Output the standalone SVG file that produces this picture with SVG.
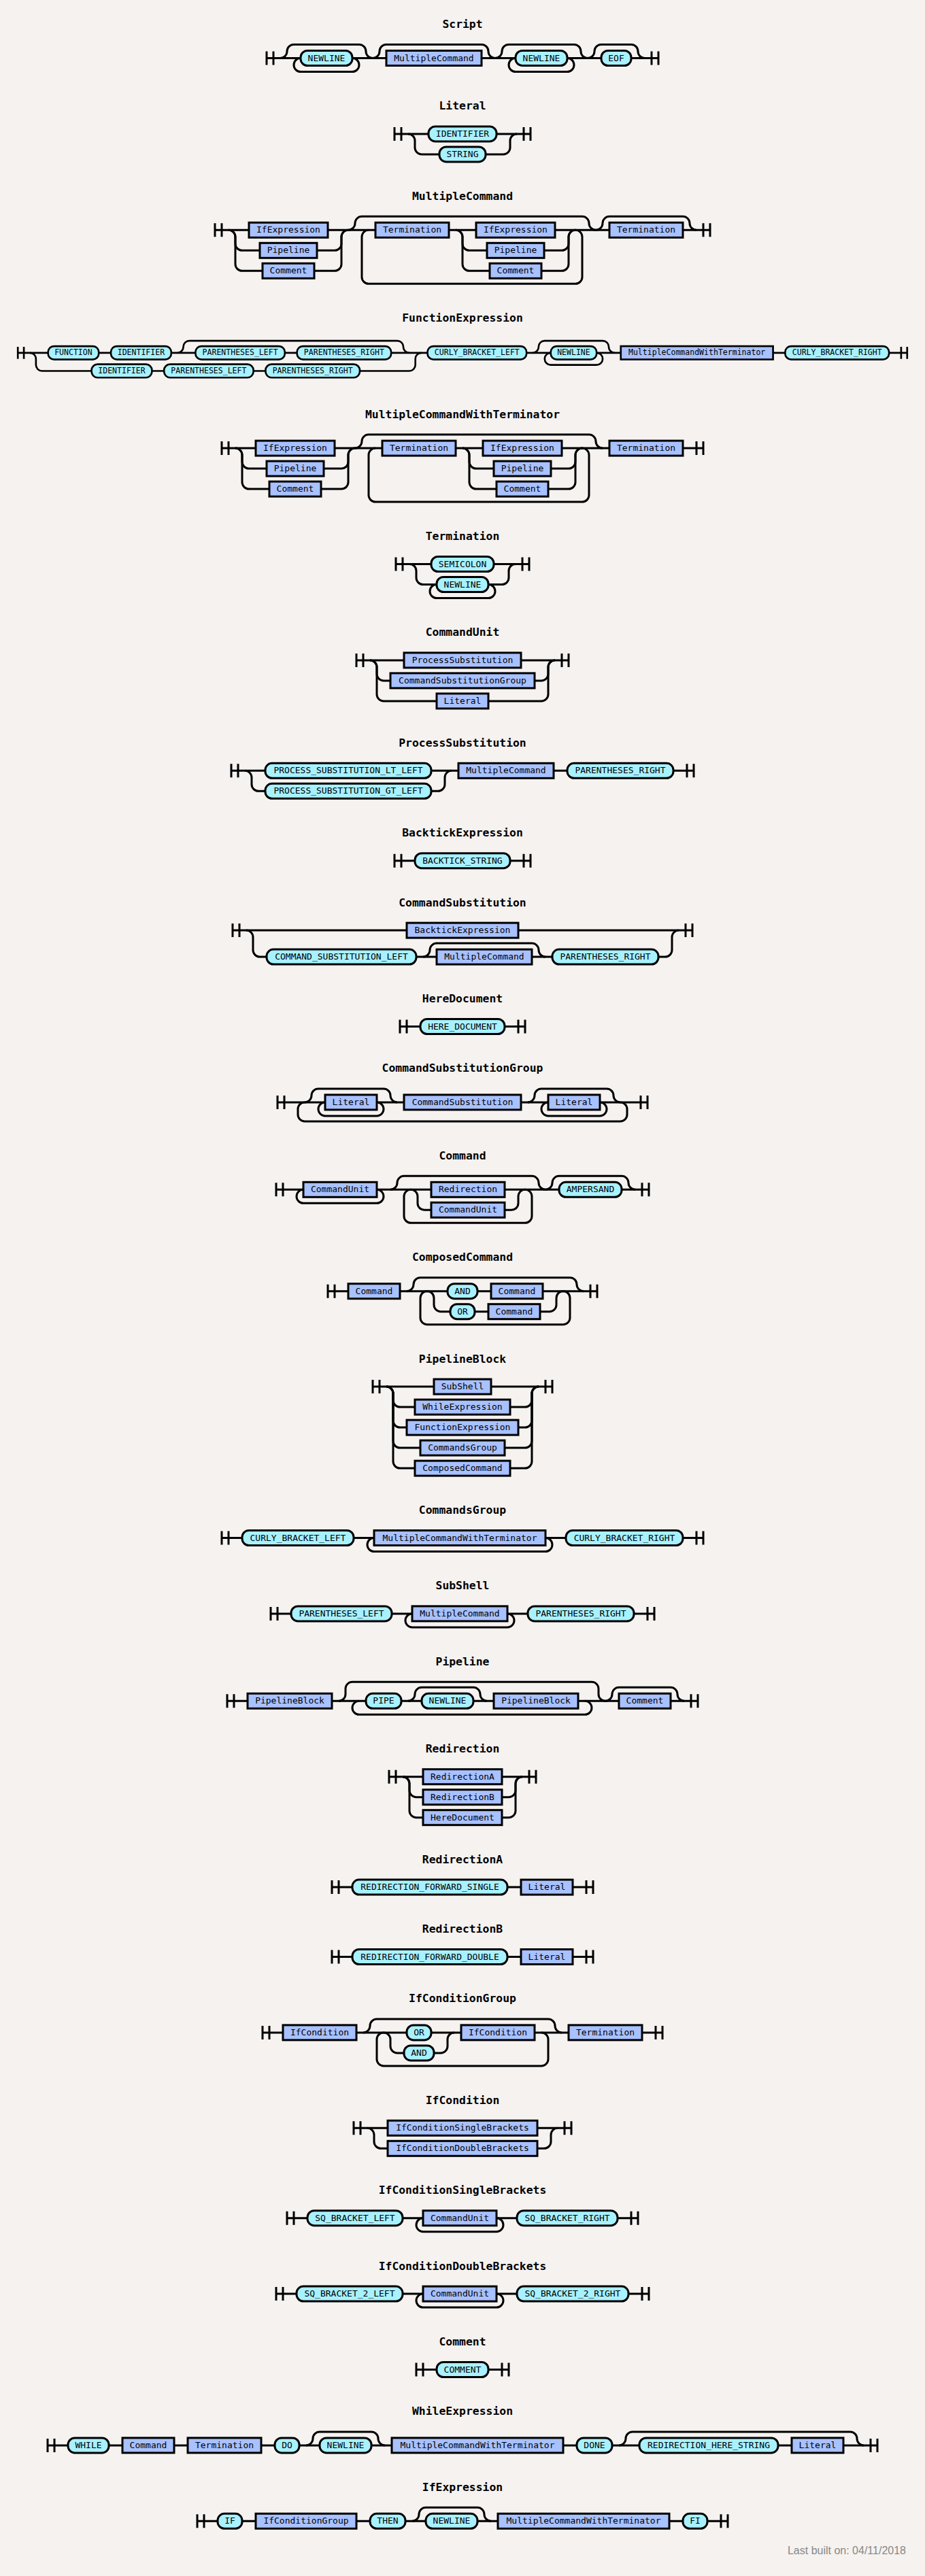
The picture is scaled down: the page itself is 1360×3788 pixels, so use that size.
<svg xmlns="http://www.w3.org/2000/svg" width="1360" height="3788" viewBox="0 0 1360 3788">
<style>
.c path{fill:none;stroke:#000;stroke-width:3}
rect.t{fill:#a8f1ff;stroke:#000;stroke-width:3}
rect.n{fill:#a8c1ff;stroke:#000;stroke-width:3}
text{font-family:"DejaVu Sans Mono",monospace;font-size:13px;text-anchor:middle;fill:#000}
text.h{font-weight:bold;font-size:16.4px}
text.f{font-family:"Liberation Sans",Arial,sans-serif;font-size:16px;fill:#888;text-anchor:end}
</style>
<rect x="0" y="0" width="1360" height="3788" fill="#f5f2f0"/>

<g id="rule-Script" transform="translate(392 85.5)">
<text class="h" x="288" y="-44.5">Script</text>
<g class="c">
<path d="M0 0H576M0 -10v20m10 -20v20M566 -10v20m10 -20v20"/>
<path d="M20 0a10 10 0 0 0 10 -10a10 10 0 0 1 10 -10h96a10 10 0 0 1 10 10a10 10 0 0 0 10 10"/>
<path d="M50 0a10 10 0 0 0 -10 10a10 10 0 0 0 10 10h76a10 10 0 0 0 10 -10a10 10 0 0 0 -10 -10"/>
<path d="M156 0a10 10 0 0 0 10 -10a10 10 0 0 1 10 -10h140a10 10 0 0 1 10 10a10 10 0 0 0 10 10"/>
<path d="M336 0a10 10 0 0 0 10 -10a10 10 0 0 1 10 -10h96a10 10 0 0 1 10 10a10 10 0 0 0 10 10"/>
<path d="M366 0a10 10 0 0 0 -10 10a10 10 0 0 0 10 10h76a10 10 0 0 0 10 -10a10 10 0 0 0 -10 -10"/>
<path d="M472 0a10 10 0 0 0 10 -10a10 10 0 0 1 10 -10h44a10 10 0 0 1 10 10a10 10 0 0 0 10 10"/>
</g>
<g id="script-newline-1"><rect class="t" x="50" y="-11" width="76" height="22" rx="10"/><text x="88" y="4">NEWLINE</text></g>
<g id="script-multiplecommand"><rect class="n" x="176" y="-11" width="140" height="22"/><text x="246" y="4">MultipleCommand</text></g>
<g id="script-newline-2"><rect class="t" x="366" y="-11" width="76" height="22" rx="10"/><text x="404" y="4">NEWLINE</text></g>
<g id="script-eof"><rect class="t" x="492" y="-11" width="44" height="22" rx="10"/><text x="514" y="4">EOF</text></g>
</g>

<g id="rule-Literal" transform="translate(580 196.9)">
<text class="h" x="100" y="-35.5">Literal</text>
<g class="c">
<path d="M0 0H200M0 -10v20m10 -20v20M190 -10v20m10 -20v20"/>
<path d="M20 0a10 10 0 0 1 10 10v10a10 10 0 0 0 10 10h120a10 10 0 0 0 10 -10v-10a10 10 0 0 1 10 -10"/>
</g>
<g id="literal-identifier"><rect class="t" x="50" y="-11" width="100" height="22" rx="10"/><text x="100" y="4">IDENTIFIER</text></g>
<g id="literal-string"><rect class="t" x="66" y="19" width="68" height="22" rx="10"/><text x="100" y="34">STRING</text></g>
</g>

<g id="rule-MultipleCommand" transform="translate(316 338.3)">
<text class="h" x="364" y="-44.5">MultipleCommand</text>
<g class="c">
<path d="M0 0H728M0 -10v20m10 -20v20M718 -10v20m10 -20v20"/>
<path d="M20 0a10 10 0 0 1 10 10v10a10 10 0 0 0 10 10h136a10 10 0 0 0 10 -10v-10a10 10 0 0 1 10 -10"/>
<path d="M20 0a10 10 0 0 1 10 10v40a10 10 0 0 0 10 10h136a10 10 0 0 0 10 -10v-40a10 10 0 0 1 10 -10"/>
<path d="M196 0a10 10 0 0 0 10 -10a10 10 0 0 1 10 -10h324a10 10 0 0 1 10 10a10 10 0 0 0 10 10"/>
<path d="M226 0a10 10 0 0 0 -10 10v59a10 10 0 0 0 10 10h304a10 10 0 0 0 10 -10v-59a10 10 0 0 0 -10 -10"/>
<path d="M354 0a10 10 0 0 1 10 10v10a10 10 0 0 0 10 10h136a10 10 0 0 0 10 -10v-10a10 10 0 0 1 10 -10"/>
<path d="M354 0a10 10 0 0 1 10 10v40a10 10 0 0 0 10 10h136a10 10 0 0 0 10 -10v-40a10 10 0 0 1 10 -10"/>
<path d="M560 0a10 10 0 0 0 10 -10a10 10 0 0 1 10 -10h108a10 10 0 0 1 10 10a10 10 0 0 0 10 10"/>
</g>
<g id="mc-ifexpression-1"><rect class="n" x="50" y="-11" width="116" height="22"/><text x="108" y="4">IfExpression</text></g>
<g id="mc-pipeline-1"><rect class="n" x="66" y="19" width="84" height="22"/><text x="108" y="34">Pipeline</text></g>
<g id="mc-comment-1"><rect class="n" x="70" y="49" width="76" height="22"/><text x="108" y="64">Comment</text></g>
<g id="mc-termination-1"><rect class="n" x="236" y="-11" width="108" height="22"/><text x="290" y="4">Termination</text></g>
<g id="mc-ifexpression-2"><rect class="n" x="384" y="-11" width="116" height="22"/><text x="442" y="4">IfExpression</text></g>
<g id="mc-pipeline-2"><rect class="n" x="400" y="19" width="84" height="22"/><text x="442" y="34">Pipeline</text></g>
<g id="mc-comment-2"><rect class="n" x="404" y="49" width="76" height="22"/><text x="442" y="64">Comment</text></g>
<g id="mc-termination-2"><rect class="n" x="580" y="-11" width="108" height="22"/><text x="634" y="4">Termination</text></g>
</g>

<g id="rule-FunctionExpression">
<text class="h" x="680" y="473.2">FunctionExpression</text>
<svg x="8" y="477.2" width="1344" height="101" viewBox="0 0 1513 101">
<g transform="translate(20.5 40.5)">
<g class="c">
<path d="M0 0H1472M0 -10v20m10 -20v20M1462 -10v20m10 -20v20"/>
<path d="M20 0a10 10 0 0 1 10 10v10a10 10 0 0 0 10 10h608a10 10 0 0 0 10 -10v-10a10 10 0 0 1 10 -10"/>
<path d="M264 0a10 10 0 0 0 10 -10a10 10 0 0 1 10 -10h344a10 10 0 0 1 10 10a10 10 0 0 0 10 10"/>
<path d="M852 0a10 10 0 0 0 10 -10a10 10 0 0 1 10 -10h96a10 10 0 0 1 10 10a10 10 0 0 0 10 10"/>
<path d="M882 0a10 10 0 0 0 -10 10a10 10 0 0 0 10 10h76a10 10 0 0 0 10 -10a10 10 0 0 0 -10 -10"/>
</g>
<g id="fe-function"><rect class="t" x="50" y="-11" width="84" height="22" rx="10"/><text x="92" y="4">FUNCTION</text></g>
<g id="fe-identifier-1"><rect class="t" x="154" y="-11" width="100" height="22" rx="10"/><text x="204" y="4">IDENTIFIER</text></g>
<g id="fe-parentheses-left-1"><rect class="t" x="294" y="-11" width="148" height="22" rx="10"/><text x="368" y="4">PARENTHESES_LEFT</text></g>
<g id="fe-parentheses-right-1"><rect class="t" x="462" y="-11" width="156" height="22" rx="10"/><text x="540" y="4">PARENTHESES_RIGHT</text></g>
<g id="fe-identifier-2"><rect class="t" x="122" y="19" width="100" height="22" rx="10"/><text x="172" y="34">IDENTIFIER</text></g>
<g id="fe-parentheses-left-2"><rect class="t" x="242" y="19" width="148" height="22" rx="10"/><text x="316" y="34">PARENTHESES_LEFT</text></g>
<g id="fe-parentheses-right-2"><rect class="t" x="410" y="19" width="156" height="22" rx="10"/><text x="488" y="34">PARENTHESES_RIGHT</text></g>
<g id="fe-curly-left"><rect class="t" x="678" y="-11" width="164" height="22" rx="10"/><text x="760" y="4">CURLY_BRACKET_LEFT</text></g>
<g id="fe-newline"><rect class="t" x="882" y="-11" width="76" height="22" rx="10"/><text x="920" y="4">NEWLINE</text></g>
<g id="fe-mcwt"><rect class="n" x="998" y="-11" width="252" height="22"/><text x="1124" y="4">MultipleCommandWithTerminator</text></g>
<g id="fe-curly-right"><rect class="t" x="1270" y="-11" width="172" height="22" rx="10"/><text x="1356" y="4">CURLY_BRACKET_RIGHT</text></g>
</g>
</svg>
</g>

<g id="rule-MultipleCommandWithTerminator" transform="translate(326 659.1)">
<text class="h" x="354" y="-44.5">MultipleCommandWithTerminator</text>
<g class="c">
<path d="M0 0H708M0 -10v20m10 -20v20M698 -10v20m10 -20v20"/>
<path d="M20 0a10 10 0 0 1 10 10v10a10 10 0 0 0 10 10h136a10 10 0 0 0 10 -10v-10a10 10 0 0 1 10 -10"/>
<path d="M20 0a10 10 0 0 1 10 10v40a10 10 0 0 0 10 10h136a10 10 0 0 0 10 -10v-40a10 10 0 0 1 10 -10"/>
<path d="M196 0a10 10 0 0 0 10 -10a10 10 0 0 1 10 -10h324a10 10 0 0 1 10 10a10 10 0 0 0 10 10"/>
<path d="M226 0a10 10 0 0 0 -10 10v59a10 10 0 0 0 10 10h304a10 10 0 0 0 10 -10v-59a10 10 0 0 0 -10 -10"/>
<path d="M354 0a10 10 0 0 1 10 10v10a10 10 0 0 0 10 10h136a10 10 0 0 0 10 -10v-10a10 10 0 0 1 10 -10"/>
<path d="M354 0a10 10 0 0 1 10 10v40a10 10 0 0 0 10 10h136a10 10 0 0 0 10 -10v-40a10 10 0 0 1 10 -10"/>
</g>
<g id="mcwt-ifexpression-1"><rect class="n" x="50" y="-11" width="116" height="22"/><text x="108" y="4">IfExpression</text></g>
<g id="mcwt-pipeline-1"><rect class="n" x="66" y="19" width="84" height="22"/><text x="108" y="34">Pipeline</text></g>
<g id="mcwt-comment-1"><rect class="n" x="70" y="49" width="76" height="22"/><text x="108" y="64">Comment</text></g>
<g id="mcwt-termination-1"><rect class="n" x="236" y="-11" width="108" height="22"/><text x="290" y="4">Termination</text></g>
<g id="mcwt-ifexpression-2"><rect class="n" x="384" y="-11" width="116" height="22"/><text x="442" y="4">IfExpression</text></g>
<g id="mcwt-pipeline-2"><rect class="n" x="400" y="19" width="84" height="22"/><text x="442" y="34">Pipeline</text></g>
<g id="mcwt-comment-2"><rect class="n" x="404" y="49" width="76" height="22"/><text x="442" y="64">Comment</text></g>
<g id="mcwt-termination-2"><rect class="n" x="570" y="-11" width="108" height="22"/><text x="624" y="4">Termination</text></g>
</g>

<g id="rule-Termination" transform="translate(582 829.5)">
<text class="h" x="98" y="-35.5">Termination</text>
<g class="c">
<path d="M0 0H196M0 -10v20m10 -20v20M186 -10v20m10 -20v20"/>
<path d="M20 0a10 10 0 0 1 10 10v10a10 10 0 0 0 10 10h116a10 10 0 0 0 10 -10v-10a10 10 0 0 1 10 -10"/>
<path d="M60 30a10 10 0 0 0 -10 10a10 10 0 0 0 10 10h76a10 10 0 0 0 10 -10a10 10 0 0 0 -10 -10"/>
</g>
<g id="termination-semicolon"><rect class="t" x="52" y="-11" width="92" height="22" rx="10"/><text x="98" y="4">SEMICOLON</text></g>
<g id="termination-newline"><rect class="t" x="60" y="19" width="76" height="22" rx="10"/><text x="98" y="34">NEWLINE</text></g>
</g>

<g id="rule-CommandUnit" transform="translate(524 970.9)">
<text class="h" x="156" y="-35.5">CommandUnit</text>
<g class="c">
<path d="M0 0H312M0 -10v20m10 -20v20M302 -10v20m10 -20v20"/>
<path d="M20 0a10 10 0 0 1 10 10v10a10 10 0 0 0 10 10h232a10 10 0 0 0 10 -10v-10a10 10 0 0 1 10 -10"/>
<path d="M20 0a10 10 0 0 1 10 10v40a10 10 0 0 0 10 10h232a10 10 0 0 0 10 -10v-40a10 10 0 0 1 10 -10"/>
</g>
<g id="cu-processsubstitution"><rect class="n" x="70" y="-11" width="172" height="22"/><text x="156" y="4">ProcessSubstitution</text></g>
<g id="cu-commandsubstitutiongroup"><rect class="n" x="50" y="19" width="212" height="22"/><text x="156" y="34">CommandSubstitutionGroup</text></g>
<g id="cu-literal"><rect class="n" x="118" y="49" width="76" height="22"/><text x="156" y="64">Literal</text></g>
</g>

<g id="rule-ProcessSubstitution" transform="translate(340 1133.3)">
<text class="h" x="340" y="-35.5">ProcessSubstitution</text>
<g class="c">
<path d="M0 0H680M0 -10v20m10 -20v20M670 -10v20m10 -20v20"/>
<path d="M20 0a10 10 0 0 1 10 10v10a10 10 0 0 0 10 10h264a10 10 0 0 0 10 -10v-10a10 10 0 0 1 10 -10"/>
</g>
<g id="ps-lt-left"><rect class="t" x="50" y="-11" width="244" height="22" rx="10"/><text x="172" y="4">PROCESS_SUBSTITUTION_LT_LEFT</text></g>
<g id="ps-gt-left"><rect class="t" x="50" y="19" width="244" height="22" rx="10"/><text x="172" y="34">PROCESS_SUBSTITUTION_GT_LEFT</text></g>
<g id="ps-multiplecommand"><rect class="n" x="334" y="-11" width="140" height="22"/><text x="404" y="4">MultipleCommand</text></g>
<g id="ps-parentheses-right"><rect class="t" x="494" y="-11" width="156" height="22" rx="10"/><text x="572" y="4">PARENTHESES_RIGHT</text></g>
</g>

<g id="rule-BacktickExpression" transform="translate(580 1265.7)">
<text class="h" x="100" y="-35.5">BacktickExpression</text>
<g class="c"><path d="M0 0H200M0 -10v20m10 -20v20M190 -10v20m10 -20v20"/></g>
<g id="be-backtick-string"><rect class="t" x="30" y="-11" width="140" height="22" rx="10"/><text x="100" y="4">BACKTICK_STRING</text></g>
</g>

<g id="rule-CommandSubstitution" transform="translate(342 1368.1)">
<text class="h" x="338" y="-35.5">CommandSubstitution</text>
<g class="c">
<path d="M0 0H676M0 -10v20m10 -20v20M666 -10v20m10 -20v20"/>
<path d="M20 0a10 10 0 0 1 10 10v19a10 10 0 0 0 10 10h596a10 10 0 0 0 10 -10v-19a10 10 0 0 1 10 -10"/>
<path d="M280 39a10 10 0 0 0 10 -10a10 10 0 0 1 10 -10h140a10 10 0 0 1 10 10a10 10 0 0 0 10 10"/>
</g>
<g id="cs-backtickexpression"><rect class="n" x="256" y="-11" width="164" height="22"/><text x="338" y="4">BacktickExpression</text></g>
<g id="cs-command-substitution-left"><rect class="t" x="50" y="28" width="220" height="22" rx="10"/><text x="160" y="43">COMMAND_SUBSTITUTION_LEFT</text></g>
<g id="cs-multiplecommand"><rect class="n" x="300" y="28" width="140" height="22"/><text x="370" y="43">MultipleCommand</text></g>
<g id="cs-parentheses-right"><rect class="t" x="470" y="28" width="156" height="22" rx="10"/><text x="548" y="43">PARENTHESES_RIGHT</text></g>
</g>

<g id="rule-HereDocument" transform="translate(588 1509.5)">
<text class="h" x="92" y="-35.5">HereDocument</text>
<g class="c"><path d="M0 0H184M0 -10v20m10 -20v20M174 -10v20m10 -20v20"/></g>
<g id="hd-here-document"><rect class="t" x="30" y="-11" width="124" height="22" rx="10"/><text x="92" y="4">HERE_DOCUMENT</text></g>
</g>

<g id="rule-CommandSubstitutionGroup" transform="translate(408 1620.9)">
<text class="h" x="272" y="-44.5">CommandSubstitutionGroup</text>
<g class="c">
<path d="M0 0H544M0 -10v20m10 -20v20M534 -10v20m10 -20v20"/>
<path d="M40 0a10 10 0 0 0 -10 10v8a10 10 0 0 0 10 10h464a10 10 0 0 0 10 -10v-8a10 10 0 0 0 -10 -10"/>
<path d="M40 0a10 10 0 0 0 10 -10a10 10 0 0 1 10 -10h96a10 10 0 0 1 10 10a10 10 0 0 0 10 10"/>
<path d="M70 0a10 10 0 0 0 -10 10a10 10 0 0 0 10 10h76a10 10 0 0 0 10 -10a10 10 0 0 0 -10 -10"/>
<path d="M368 0a10 10 0 0 0 10 -10a10 10 0 0 1 10 -10h96a10 10 0 0 1 10 10a10 10 0 0 0 10 10"/>
<path d="M398 0a10 10 0 0 0 -10 10a10 10 0 0 0 10 10h76a10 10 0 0 0 10 -10a10 10 0 0 0 -10 -10"/>
</g>
<g id="csg-literal-1"><rect class="n" x="70" y="-11" width="76" height="22"/><text x="108" y="4">Literal</text></g>
<g id="csg-commandsubstitution"><rect class="n" x="186" y="-11" width="172" height="22"/><text x="272" y="4">CommandSubstitution</text></g>
<g id="csg-literal-2"><rect class="n" x="398" y="-11" width="76" height="22"/><text x="436" y="4">Literal</text></g>
</g>

<g id="rule-Command" transform="translate(406 1749.3)">
<text class="h" x="274" y="-44.5">Command</text>
<g class="c">
<path d="M0 0H548M0 -10v20m10 -20v20M538 -10v20m10 -20v20"/>
<path d="M40 0a10 10 0 0 0 -10 10a10 10 0 0 0 10 10h108a10 10 0 0 0 10 -10a10 10 0 0 0 -10 -10"/>
<path d="M168 0a10 10 0 0 0 10 -10a10 10 0 0 1 10 -10h188a10 10 0 0 1 10 10a10 10 0 0 0 10 10"/>
<path d="M198 0a10 10 0 0 0 -10 10v29a10 10 0 0 0 10 10h168a10 10 0 0 0 10 -10v-29a10 10 0 0 0 -10 -10"/>
<path d="M198 0a10 10 0 0 1 10 10v10a10 10 0 0 0 10 10h128a10 10 0 0 0 10 -10v-10a10 10 0 0 1 10 -10"/>
<path d="M396 0a10 10 0 0 0 10 -10a10 10 0 0 1 10 -10h92a10 10 0 0 1 10 10a10 10 0 0 0 10 10"/>
</g>
<g id="command-commandunit-1"><rect class="n" x="40" y="-11" width="108" height="22"/><text x="94" y="4">CommandUnit</text></g>
<g id="command-redirection"><rect class="n" x="228" y="-11" width="108" height="22"/><text x="282" y="4">Redirection</text></g>
<g id="command-commandunit-2"><rect class="n" x="228" y="19" width="108" height="22"/><text x="282" y="34">CommandUnit</text></g>
<g id="command-ampersand"><rect class="t" x="416" y="-11" width="92" height="22" rx="10"/><text x="462" y="4">AMPERSAND</text></g>
</g>

<g id="rule-ComposedCommand" transform="translate(482 1898.7)">
<text class="h" x="198" y="-44.5">ComposedCommand</text>
<g class="c">
<path d="M0 0H396M0 -10v20m10 -20v20M386 -10v20m10 -20v20"/>
<path d="M116 0a10 10 0 0 0 10 -10a10 10 0 0 1 10 -10h220a10 10 0 0 1 10 10a10 10 0 0 0 10 10"/>
<path d="M146 0a10 10 0 0 0 -10 10v29a10 10 0 0 0 10 10h200a10 10 0 0 0 10 -10v-29a10 10 0 0 0 -10 -10"/>
<path d="M146 0a10 10 0 0 1 10 10v10a10 10 0 0 0 10 10h160a10 10 0 0 0 10 -10v-10a10 10 0 0 1 10 -10"/>
</g>
<g id="cc-command-1"><rect class="n" x="30" y="-11" width="76" height="22"/><text x="68" y="4">Command</text></g>
<g id="cc-and"><rect class="t" x="176" y="-11" width="44" height="22" rx="10"/><text x="198" y="4">AND</text></g>
<g id="cc-command-2"><rect class="n" x="240" y="-11" width="76" height="22"/><text x="278" y="4">Command</text></g>
<g id="cc-or"><rect class="t" x="180" y="19" width="36" height="22" rx="10"/><text x="198" y="34">OR</text></g>
<g id="cc-command-3"><rect class="n" x="236" y="19" width="76" height="22"/><text x="274" y="34">Command</text></g>
</g>

<g id="rule-PipelineBlock" transform="translate(548 2039.1)">
<text class="h" x="132" y="-35.5">PipelineBlock</text>
<g class="c">
<path d="M0 0H264M0 -10v20m10 -20v20M254 -10v20m10 -20v20"/>
<path d="M20 0a10 10 0 0 1 10 10v10a10 10 0 0 0 10 10h184a10 10 0 0 0 10 -10v-10a10 10 0 0 1 10 -10"/>
<path d="M20 0a10 10 0 0 1 10 10v40a10 10 0 0 0 10 10h184a10 10 0 0 0 10 -10v-40a10 10 0 0 1 10 -10"/>
<path d="M20 0a10 10 0 0 1 10 10v70a10 10 0 0 0 10 10h184a10 10 0 0 0 10 -10v-70a10 10 0 0 1 10 -10"/>
<path d="M20 0a10 10 0 0 1 10 10v100a10 10 0 0 0 10 10h184a10 10 0 0 0 10 -10v-100a10 10 0 0 1 10 -10"/>
</g>
<g id="pb-subshell"><rect class="n" x="90" y="-11" width="84" height="22"/><text x="132" y="4">SubShell</text></g>
<g id="pb-whileexpression"><rect class="n" x="62" y="19" width="140" height="22"/><text x="132" y="34">WhileExpression</text></g>
<g id="pb-functionexpression"><rect class="n" x="50" y="49" width="164" height="22"/><text x="132" y="64">FunctionExpression</text></g>
<g id="pb-commandsgroup"><rect class="n" x="70" y="79" width="124" height="22"/><text x="132" y="94">CommandsGroup</text></g>
<g id="pb-composedcommand"><rect class="n" x="62" y="109" width="140" height="22"/><text x="132" y="124">ComposedCommand</text></g>
</g>

<g id="rule-CommandsGroup" transform="translate(326 2261.5)">
<text class="h" x="354" y="-35.5">CommandsGroup</text>
<g class="c">
<path d="M0 0H708M0 -10v20m10 -20v20M698 -10v20m10 -20v20"/>
<path d="M224 0a10 10 0 0 0 -10 10a10 10 0 0 0 10 10h252a10 10 0 0 0 10 -10a10 10 0 0 0 -10 -10"/>
</g>
<g id="cg-curly-left"><rect class="t" x="30" y="-11" width="164" height="22" rx="10"/><text x="112" y="4">CURLY_BRACKET_LEFT</text></g>
<g id="cg-mcwt"><rect class="n" x="224" y="-11" width="252" height="22"/><text x="350" y="4">MultipleCommandWithTerminator</text></g>
<g id="cg-curly-right"><rect class="t" x="506" y="-11" width="172" height="22" rx="10"/><text x="592" y="4">CURLY_BRACKET_RIGHT</text></g>
</g>

<g id="rule-SubShell" transform="translate(398 2372.9)">
<text class="h" x="282" y="-35.5">SubShell</text>
<g class="c">
<path d="M0 0H564M0 -10v20m10 -20v20M554 -10v20m10 -20v20"/>
<path d="M208 0a10 10 0 0 0 -10 10a10 10 0 0 0 10 10h140a10 10 0 0 0 10 -10a10 10 0 0 0 -10 -10"/>
</g>
<g id="ss-parentheses-left"><rect class="t" x="30" y="-11" width="148" height="22" rx="10"/><text x="104" y="4">PARENTHESES_LEFT</text></g>
<g id="ss-multiplecommand"><rect class="n" x="208" y="-11" width="140" height="22"/><text x="278" y="4">MultipleCommand</text></g>
<g id="ss-parentheses-right"><rect class="t" x="378" y="-11" width="156" height="22" rx="10"/><text x="456" y="4">PARENTHESES_RIGHT</text></g>
</g>

<g id="rule-Pipeline" transform="translate(334 2501.3)">
<text class="h" x="346" y="-52.5">Pipeline</text>
<g class="c">
<path d="M0 0H692M0 -10v20m10 -20v20M682 -10v20m10 -20v20"/>
<path d="M164 0a10 10 0 0 0 10 -10v-8a10 10 0 0 1 10 -10h352a10 10 0 0 1 10 10v8a10 10 0 0 0 10 10"/>
<path d="M194 0a10 10 0 0 0 -10 10a10 10 0 0 0 10 10h332a10 10 0 0 0 10 -10a10 10 0 0 0 -10 -10"/>
<path d="M266 0a10 10 0 0 0 10 -10a10 10 0 0 1 10 -10h76a10 10 0 0 1 10 10a10 10 0 0 0 10 10"/>
<path d="M556 0a10 10 0 0 0 10 -10a10 10 0 0 1 10 -10h76a10 10 0 0 1 10 10a10 10 0 0 0 10 10"/>
</g>
<g id="pl-pipelineblock-1"><rect class="n" x="30" y="-11" width="124" height="22"/><text x="92" y="4">PipelineBlock</text></g>
<g id="pl-pipe"><rect class="t" x="204" y="-11" width="52" height="22" rx="10"/><text x="230" y="4">PIPE</text></g>
<g id="pl-newline"><rect class="t" x="286" y="-11" width="76" height="22" rx="10"/><text x="324" y="4">NEWLINE</text></g>
<g id="pl-pipelineblock-2"><rect class="n" x="392" y="-11" width="124" height="22"/><text x="454" y="4">PipelineBlock</text></g>
<g id="pl-comment"><rect class="n" x="576" y="-11" width="76" height="22"/><text x="614" y="4">Comment</text></g>
</g>

<g id="rule-Redirection" transform="translate(572 2612.7)">
<text class="h" x="108" y="-35.5">Redirection</text>
<g class="c">
<path d="M0 0H216M0 -10v20m10 -20v20M206 -10v20m10 -20v20"/>
<path d="M20 0a10 10 0 0 1 10 10v10a10 10 0 0 0 10 10h136a10 10 0 0 0 10 -10v-10a10 10 0 0 1 10 -10"/>
<path d="M20 0a10 10 0 0 1 10 10v40a10 10 0 0 0 10 10h136a10 10 0 0 0 10 -10v-40a10 10 0 0 1 10 -10"/>
</g>
<g id="red-redirectiona"><rect class="n" x="50" y="-11" width="116" height="22"/><text x="108" y="4">RedirectionA</text></g>
<g id="red-redirectionb"><rect class="n" x="50" y="19" width="116" height="22"/><text x="108" y="34">RedirectionB</text></g>
<g id="red-heredocument"><rect class="n" x="50" y="49" width="116" height="22"/><text x="108" y="64">HereDocument</text></g>
</g>

<g id="rule-RedirectionA" transform="translate(488 2775.1)">
<text class="h" x="192" y="-35.5">RedirectionA</text>
<g class="c"><path d="M0 0H384M0 -10v20m10 -20v20M374 -10v20m10 -20v20"/></g>
<g id="ra-forward-single"><rect class="t" x="30" y="-11" width="228" height="22" rx="10"/><text x="144" y="4">REDIRECTION_FORWARD_SINGLE</text></g>
<g id="ra-literal"><rect class="n" x="278" y="-11" width="76" height="22"/><text x="316" y="4">Literal</text></g>
</g>

<g id="rule-RedirectionB" transform="translate(488 2877.5)">
<text class="h" x="192" y="-35.5">RedirectionB</text>
<g class="c"><path d="M0 0H384M0 -10v20m10 -20v20M374 -10v20m10 -20v20"/></g>
<g id="rb-forward-double"><rect class="t" x="30" y="-11" width="228" height="22" rx="10"/><text x="144" y="4">REDIRECTION_FORWARD_DOUBLE</text></g>
<g id="rb-literal"><rect class="n" x="278" y="-11" width="76" height="22"/><text x="316" y="4">Literal</text></g>
</g>

<g id="rule-IfConditionGroup" transform="translate(386 2988.9)">
<text class="h" x="294" y="-44.5">IfConditionGroup</text>
<g class="c">
<path d="M0 0H588M0 -10v20m10 -20v20M578 -10v20m10 -20v20"/>
<path d="M148 0a10 10 0 0 0 10 -10a10 10 0 0 1 10 -10h252a10 10 0 0 1 10 10a10 10 0 0 0 10 10"/>
<path d="M178 0a10 10 0 0 0 -10 10v29a10 10 0 0 0 10 10h232a10 10 0 0 0 10 -10v-29a10 10 0 0 0 -10 -10"/>
<path d="M178 0a10 10 0 0 1 10 10v10a10 10 0 0 0 10 10h64a10 10 0 0 0 10 -10v-10a10 10 0 0 1 10 -10"/>
</g>
<g id="icg-ifcondition-1"><rect class="n" x="30" y="-11" width="108" height="22"/><text x="84" y="4">IfCondition</text></g>
<g id="icg-or"><rect class="t" x="212" y="-11" width="36" height="22" rx="10"/><text x="230" y="4">OR</text></g>
<g id="icg-and"><rect class="t" x="208" y="19" width="44" height="22" rx="10"/><text x="230" y="34">AND</text></g>
<g id="icg-ifcondition-2"><rect class="n" x="292" y="-11" width="108" height="22"/><text x="346" y="4">IfCondition</text></g>
<g id="icg-termination"><rect class="n" x="450" y="-11" width="108" height="22"/><text x="504" y="4">Termination</text></g>
</g>

<g id="rule-IfCondition" transform="translate(520 3129.3)">
<text class="h" x="160" y="-35.5">IfCondition</text>
<g class="c">
<path d="M0 0H320M0 -10v20m10 -20v20M310 -10v20m10 -20v20"/>
<path d="M20 0a10 10 0 0 1 10 10v10a10 10 0 0 0 10 10h240a10 10 0 0 0 10 -10v-10a10 10 0 0 1 10 -10"/>
</g>
<g id="ic-single"><rect class="n" x="50" y="-11" width="220" height="22"/><text x="160" y="4">IfConditionSingleBrackets</text></g>
<g id="ic-double"><rect class="n" x="50" y="19" width="220" height="22"/><text x="160" y="34">IfConditionDoubleBrackets</text></g>
</g>

<g id="rule-IfConditionSingleBrackets" transform="translate(422 3261.7)">
<text class="h" x="258" y="-35.5">IfConditionSingleBrackets</text>
<g class="c">
<path d="M0 0H516M0 -10v20m10 -20v20M506 -10v20m10 -20v20"/>
<path d="M200 0a10 10 0 0 0 -10 10a10 10 0 0 0 10 10h108a10 10 0 0 0 10 -10a10 10 0 0 0 -10 -10"/>
</g>
<g id="icsb-left"><rect class="t" x="30" y="-11" width="140" height="22" rx="10"/><text x="100" y="4">SQ_BRACKET_LEFT</text></g>
<g id="icsb-commandunit"><rect class="n" x="200" y="-11" width="108" height="22"/><text x="254" y="4">CommandUnit</text></g>
<g id="icsb-right"><rect class="t" x="338" y="-11" width="148" height="22" rx="10"/><text x="412" y="4">SQ_BRACKET_RIGHT</text></g>
</g>

<g id="rule-IfConditionDoubleBrackets" transform="translate(406 3373.1)">
<text class="h" x="274" y="-35.5">IfConditionDoubleBrackets</text>
<g class="c">
<path d="M0 0H548M0 -10v20m10 -20v20M538 -10v20m10 -20v20"/>
<path d="M216 0a10 10 0 0 0 -10 10a10 10 0 0 0 10 10h108a10 10 0 0 0 10 -10a10 10 0 0 0 -10 -10"/>
</g>
<g id="icdb-left"><rect class="t" x="30" y="-11" width="156" height="22" rx="10"/><text x="108" y="4">SQ_BRACKET_2_LEFT</text></g>
<g id="icdb-commandunit"><rect class="n" x="216" y="-11" width="108" height="22"/><text x="270" y="4">CommandUnit</text></g>
<g id="icdb-right"><rect class="t" x="354" y="-11" width="164" height="22" rx="10"/><text x="436" y="4">SQ_BRACKET_2_RIGHT</text></g>
</g>

<g id="rule-Comment" transform="translate(612 3484.5)">
<text class="h" x="68" y="-35.5">Comment</text>
<g class="c"><path d="M0 0H136M0 -10v20m10 -20v20M126 -10v20m10 -20v20"/></g>
<g id="comment-comment"><rect class="t" x="30" y="-11" width="76" height="22" rx="10"/><text x="68" y="4">COMMENT</text></g>
</g>

<g id="rule-WhileExpression" transform="translate(70 3595.9)">
<text class="h" x="610" y="-44.5">WhileExpression</text>
<g class="c">
<path d="M0 0H1220M0 -10v20m10 -20v20M1210 -10v20m10 -20v20"/>
<path d="M380 0a10 10 0 0 0 10 -10a10 10 0 0 1 10 -10h76a10 10 0 0 1 10 10a10 10 0 0 0 10 10"/>
<path d="M840 0a10 10 0 0 0 10 -10a10 10 0 0 1 10 -10h320a10 10 0 0 1 10 10a10 10 0 0 0 10 10"/>
</g>
<g id="we-while"><rect class="t" x="30" y="-11" width="60" height="22" rx="10"/><text x="60" y="4">WHILE</text></g>
<g id="we-command"><rect class="n" x="110" y="-11" width="76" height="22"/><text x="148" y="4">Command</text></g>
<g id="we-termination"><rect class="n" x="206" y="-11" width="108" height="22"/><text x="260" y="4">Termination</text></g>
<g id="we-do"><rect class="t" x="334" y="-11" width="36" height="22" rx="10"/><text x="352" y="4">DO</text></g>
<g id="we-newline"><rect class="t" x="400" y="-11" width="76" height="22" rx="10"/><text x="438" y="4">NEWLINE</text></g>
<g id="we-mcwt"><rect class="n" x="506" y="-11" width="252" height="22"/><text x="632" y="4">MultipleCommandWithTerminator</text></g>
<g id="we-done"><rect class="t" x="778" y="-11" width="52" height="22" rx="10"/><text x="804" y="4">DONE</text></g>
<g id="we-here-string"><rect class="t" x="870" y="-11" width="204" height="22" rx="10"/><text x="972" y="4">REDIRECTION_HERE_STRING</text></g>
<g id="we-literal"><rect class="n" x="1094" y="-11" width="76" height="22"/><text x="1132" y="4">Literal</text></g>
</g>

<g id="rule-IfExpression" transform="translate(290 3707.3)">
<text class="h" x="390" y="-44.5">IfExpression</text>
<g class="c">
<path d="M0 0H780M0 -10v20m10 -20v20M770 -10v20m10 -20v20"/>
<path d="M316 0a10 10 0 0 0 10 -10a10 10 0 0 1 10 -10h76a10 10 0 0 1 10 10a10 10 0 0 0 10 10"/>
</g>
<g id="ie-if"><rect class="t" x="30" y="-11" width="36" height="22" rx="10"/><text x="48" y="4">IF</text></g>
<g id="ie-ifconditiongroup"><rect class="n" x="86" y="-11" width="148" height="22"/><text x="160" y="4">IfConditionGroup</text></g>
<g id="ie-then"><rect class="t" x="254" y="-11" width="52" height="22" rx="10"/><text x="280" y="4">THEN</text></g>
<g id="ie-newline"><rect class="t" x="336" y="-11" width="76" height="22" rx="10"/><text x="374" y="4">NEWLINE</text></g>
<g id="ie-mcwt"><rect class="n" x="442" y="-11" width="252" height="22"/><text x="568" y="4">MultipleCommandWithTerminator</text></g>
<g id="ie-fi"><rect class="t" x="714" y="-11" width="36" height="22" rx="10"/><text x="732" y="4">FI</text></g>
</g>

<text id="footer" class="f" x="1332" y="3756">Last built on: 04/11/2018</text>
</svg>
